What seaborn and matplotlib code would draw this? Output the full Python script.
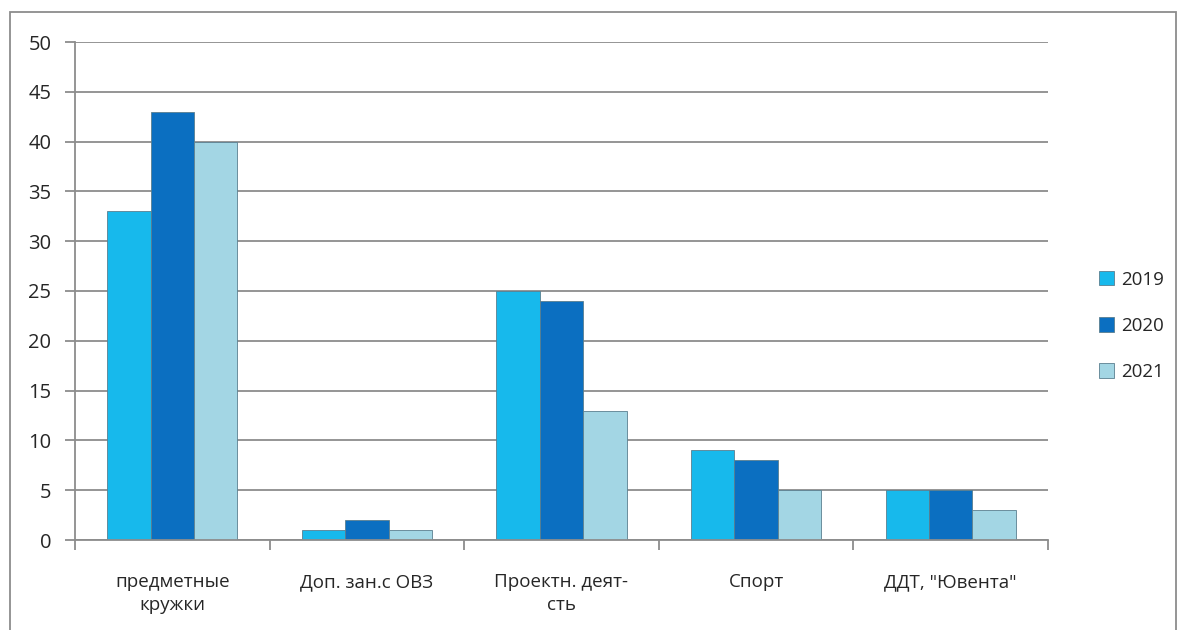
import pandas as pd
import numpy as np
import seaborn as sns
import matplotlib.pyplot as plt
from matplotlib.patches import Rectangle

categories = ['предметные\nкружки', 'Доп. зан.с ОВЗ', 'Проектн. деят-\nсть', 'Спорт', 'ДДТ, "Ювента"']
years = ['2019', '2020', '2021']
values_2019 = [33, 1, 25, 9, 5]
values_2020 = [43, 2, 24, 8, 5]
values_2021 = [40, 1, 13, 5, 3]
colors = ['#17B9EC', '#0B6FC1', '#A3D6E4']

df = pd.DataFrame({
    'cat': categories * 3,
    'year': [y for y in years for _ in categories],
    'value': values_2019 + values_2020 + values_2021,
})

sns.set_style('white')
plt.rcParams['font.family'] = ['Open Sans', 'DejaVu Sans']

fig = plt.figure(figsize=(11.85, 6.3), dpi=100)
ax = fig.add_axes([75 / 1185, 90 / 630, (1048 - 75) / 1185, (540 - 42) / 630])

sns.barplot(data=df, x='cat', y='value', hue='year', palette=colors,
            width=0.67, gap=0, ax=ax, edgecolor='#5a7f90', linewidth=0.6,
            saturation=1)

ax.set_ylim(0, 50)
ax.set_xlim(-0.5, len(categories) - 0.5)
ax.set_yticks(range(0, 51, 5))
ax.yaxis.grid(True, color='#8c8c8c', linewidth=1.3)
ax.set_axisbelow(True)
ax.set_xlabel('')
ax.set_ylabel('')

for s in ['top', 'right']:
    ax.spines[s].set_visible(False)
for s in ['left', 'bottom']:
    ax.spines[s].set_color('#8c8c8c')
    ax.spines[s].set_linewidth(1.3)

ax.tick_params(axis='y', which='major', length=7, width=1.3, color='#8c8c8c',
               labelsize=14.5, pad=10, direction='out', left=True)
ax.set_xticks(range(len(categories)))
ax.set_xticklabels(categories, fontsize=13.5, linespacing=1.35)
ax.tick_params(axis='x', which='major', length=0, pad=24)
ax.set_xticks(np.arange(-0.5, len(categories)), minor=True)
ax.tick_params(axis='x', which='minor', length=7, width=1.3, color='#8c8c8c',
               direction='out', bottom=True)

handles, labels = ax.get_legend_handles_labels()
leg = ax.legend(handles, labels, loc='center left', bbox_to_anchor=(1.035, 0.43),
                frameon=False, fontsize=13.5, handlelength=0.8, handleheight=0.8,
                labelspacing=1.5, handletextpad=0.4)

fig.patches.append(Rectangle((10 / 1185, -0.05), (1176 - 10) / 1185, 0.05 + (630 - 12) / 630,
                             transform=fig.transFigure, fill=False,
                             edgecolor='#8c8c8c', linewidth=1.3))

fig.savefig('out.png', dpi=100)
